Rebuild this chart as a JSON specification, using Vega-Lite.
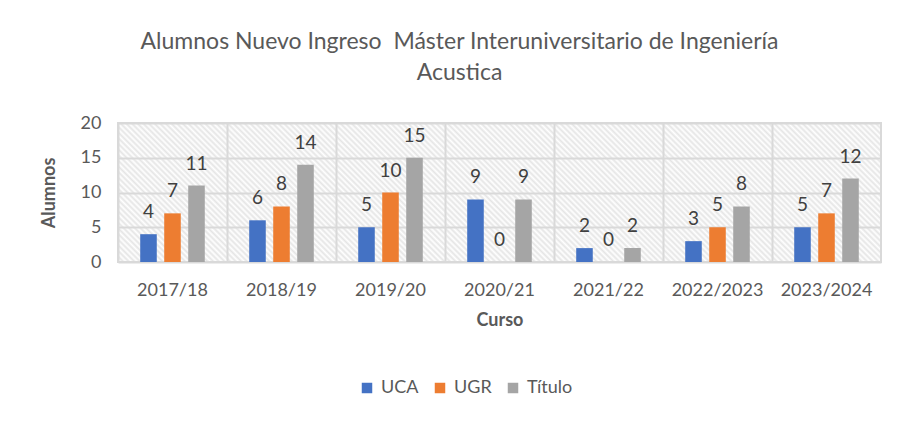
{
  "$schema": "https://vega.github.io/schema/vega-lite/v6.json",
  "autosize": {"type": "none"},
  "width": 763,
  "height": 139,
  "padding": {"left": 118, "top": 123, "right": 21, "bottom": 163},
  "background": "white",
  "title": {
    "text": ["Alumnos Nuevo Ingreso\u00a0 Máster Interuniversitario de Ingeniería", "Acustica"],
    "fontSize": 23,
    "font": "Lato",
    "fontWeight": "normal",
    "color": "#595959",
    "lineHeight": 31,
    "anchor": "middle",
    "dx": -40,
    "offset": 29
  },
  "data": {
    "values": [
      {"Curso": "2017/18", "Serie": "UCA", "Alumnos": 4},
      {"Curso": "2017/18", "Serie": "UGR", "Alumnos": 7},
      {"Curso": "2017/18", "Serie": "Título", "Alumnos": 11},
      {"Curso": "2018/19", "Serie": "UCA", "Alumnos": 6},
      {"Curso": "2018/19", "Serie": "UGR", "Alumnos": 8},
      {"Curso": "2018/19", "Serie": "Título", "Alumnos": 14},
      {"Curso": "2019/20", "Serie": "UCA", "Alumnos": 5},
      {"Curso": "2019/20", "Serie": "UGR", "Alumnos": 10},
      {"Curso": "2019/20", "Serie": "Título", "Alumnos": 15},
      {"Curso": "2020/21", "Serie": "UCA", "Alumnos": 9},
      {"Curso": "2020/21", "Serie": "UGR", "Alumnos": 0},
      {"Curso": "2020/21", "Serie": "Título", "Alumnos": 9},
      {"Curso": "2021/22", "Serie": "UCA", "Alumnos": 2},
      {"Curso": "2021/22", "Serie": "UGR", "Alumnos": 0},
      {"Curso": "2021/22", "Serie": "Título", "Alumnos": 2},
      {"Curso": "2022/2023", "Serie": "UCA", "Alumnos": 3},
      {"Curso": "2022/2023", "Serie": "UGR", "Alumnos": 5},
      {"Curso": "2022/2023", "Serie": "Título", "Alumnos": 8},
      {"Curso": "2023/2024", "Serie": "UCA", "Alumnos": 5},
      {"Curso": "2023/2024", "Serie": "UGR", "Alumnos": 7},
      {"Curso": "2023/2024", "Serie": "Título", "Alumnos": 12}
    ]
  },
  "encoding": {
    "x": {
      "field": "Curso",
      "type": "nominal",
      "sort": null,
      "scale": {"paddingInner": 0, "paddingOuter": 0},
      "axis": {
        "title": "Curso",
        "titleFont": "Lato",
        "titleFontSize": 18,
        "titleFontWeight": "bold",
        "titleColor": "#595959",
        "titlePadding": 12,
        "labelFont": "Lato",
        "labelFontSize": 18,
        "labelColor": "#595959",
        "labelAngle": 0,
        "labelPadding": 19,
        "domain": false,
        "ticks": false,
        "grid": true,
        "bandPosition": 0,
        "gridColor": "#d9d9d9",
        "gridWidth": 2
      }
    },
    "xOffset": {
      "field": "Serie",
      "type": "nominal",
      "sort": ["UCA", "UGR", "Título"],
      "scale": {"paddingInner": 0.31, "paddingOuter": 0.925}
    },
    "y": {
      "field": "Alumnos",
      "type": "quantitative",
      "scale": {"domain": [0, 20]},
      "axis": {
        "title": "Alumnos",
        "titleFont": "Lato",
        "titleFontSize": 18,
        "titleFontWeight": "bold",
        "titleColor": "#595959",
        "titlePadding": 22,
        "labelFont": "Lato",
        "labelFontSize": 18,
        "labelColor": "#595959",
        "labelPadding": 17,
        "values": [0, 5, 10, 15, 20],
        "domain": false,
        "ticks": false,
        "gridColor": "#d9d9d9",
        "gridWidth": 2
      }
    }
  },
  "layer": [
    {
      "mark": {"type": "bar"},
      "encoding": {
        "color": {
          "field": "Serie",
          "type": "nominal",
          "sort": ["UCA", "UGR", "Título"],
          "scale": {"domain": ["UCA", "UGR", "Título"], "range": ["#4472C4", "#ED7D31", "#A5A5A5"]},
          "legend": {
            "title": null,
            "orient": "none",
            "direction": "horizontal",
            "legendX": 240,
            "legendY": 256,
            "symbolType": "square",
            "symbolSize": 110,
            "symbolStrokeWidth": 0,
            "labelFont": "Lato",
            "labelFontSize": 18,
            "labelColor": "#595959",
            "columnPadding": 12,
            "labelOffset": 5
          }
        }
      }
    },
    {
      "mark": {"type": "text", "baseline": "middle", "dy": -22, "font": "Lato", "fontSize": 19, "color": "#404040"},
      "encoding": {
        "text": {"field": "Alumnos", "type": "quantitative"}
      }
    }
  ],
  "config": {
    "view": {
      "stroke": "#d9d9d9",
      "strokeWidth": 2,
      "fill": {
        "gradient": "linear",
        "x1": 0, "y1": 1, "x2": 1.144, "y2": 0.792,
        "stops": [
          {"offset":0,"color":"#e5e5e5"},{"offset":0.003125,"color":"#fff"},{"offset":0.00625,"color":"#e5e5e5"},{"offset":0.009375,"color":"#fff"},
          {"offset":0.0125,"color":"#e5e5e5"},{"offset":0.015625,"color":"#fff"},{"offset":0.01875,"color":"#e5e5e5"},{"offset":0.021875,"color":"#fff"},
          {"offset":0.025,"color":"#e5e5e5"},{"offset":0.028125,"color":"#fff"},{"offset":0.03125,"color":"#e5e5e5"},{"offset":0.034375,"color":"#fff"},
          {"offset":0.0375,"color":"#e5e5e5"},{"offset":0.040625,"color":"#fff"},{"offset":0.04375,"color":"#e5e5e5"},{"offset":0.046875,"color":"#fff"},
          {"offset":0.05,"color":"#e5e5e5"},{"offset":0.053125,"color":"#fff"},{"offset":0.05625,"color":"#e5e5e5"},{"offset":0.059375,"color":"#fff"},
          {"offset":0.0625,"color":"#e5e5e5"},{"offset":0.065625,"color":"#fff"},{"offset":0.06875,"color":"#e5e5e5"},{"offset":0.071875,"color":"#fff"},
          {"offset":0.075,"color":"#e5e5e5"},{"offset":0.078125,"color":"#fff"},{"offset":0.08125,"color":"#e5e5e5"},{"offset":0.084375,"color":"#fff"},
          {"offset":0.0875,"color":"#e5e5e5"},{"offset":0.090625,"color":"#fff"},{"offset":0.09375,"color":"#e5e5e5"},{"offset":0.096875,"color":"#fff"},
          {"offset":0.1,"color":"#e5e5e5"},{"offset":0.103125,"color":"#fff"},{"offset":0.10625,"color":"#e5e5e5"},{"offset":0.109375,"color":"#fff"},
          {"offset":0.1125,"color":"#e5e5e5"},{"offset":0.115625,"color":"#fff"},{"offset":0.11875,"color":"#e5e5e5"},{"offset":0.121875,"color":"#fff"},
          {"offset":0.125,"color":"#e5e5e5"},{"offset":0.128125,"color":"#fff"},{"offset":0.13125,"color":"#e5e5e5"},{"offset":0.134375,"color":"#fff"},
          {"offset":0.1375,"color":"#e5e5e5"},{"offset":0.140625,"color":"#fff"},{"offset":0.14375,"color":"#e5e5e5"},{"offset":0.146875,"color":"#fff"},
          {"offset":0.15,"color":"#e5e5e5"},{"offset":0.153125,"color":"#fff"},{"offset":0.15625,"color":"#e5e5e5"},{"offset":0.159375,"color":"#fff"},
          {"offset":0.1625,"color":"#e5e5e5"},{"offset":0.165625,"color":"#fff"},{"offset":0.16875,"color":"#e5e5e5"},{"offset":0.171875,"color":"#fff"},
          {"offset":0.175,"color":"#e5e5e5"},{"offset":0.178125,"color":"#fff"},{"offset":0.18125,"color":"#e5e5e5"},{"offset":0.184375,"color":"#fff"},
          {"offset":0.1875,"color":"#e5e5e5"},{"offset":0.190625,"color":"#fff"},{"offset":0.19375,"color":"#e5e5e5"},{"offset":0.196875,"color":"#fff"},
          {"offset":0.2,"color":"#e5e5e5"},{"offset":0.203125,"color":"#fff"},{"offset":0.20625,"color":"#e5e5e5"},{"offset":0.209375,"color":"#fff"},
          {"offset":0.2125,"color":"#e5e5e5"},{"offset":0.215625,"color":"#fff"},{"offset":0.21875,"color":"#e5e5e5"},{"offset":0.221875,"color":"#fff"},
          {"offset":0.225,"color":"#e5e5e5"},{"offset":0.228125,"color":"#fff"},{"offset":0.23125,"color":"#e5e5e5"},{"offset":0.234375,"color":"#fff"},
          {"offset":0.2375,"color":"#e5e5e5"},{"offset":0.240625,"color":"#fff"},{"offset":0.24375,"color":"#e5e5e5"},{"offset":0.246875,"color":"#fff"},
          {"offset":0.25,"color":"#e5e5e5"},{"offset":0.253125,"color":"#fff"},{"offset":0.25625,"color":"#e5e5e5"},{"offset":0.259375,"color":"#fff"},
          {"offset":0.2625,"color":"#e5e5e5"},{"offset":0.265625,"color":"#fff"},{"offset":0.26875,"color":"#e5e5e5"},{"offset":0.271875,"color":"#fff"},
          {"offset":0.275,"color":"#e5e5e5"},{"offset":0.278125,"color":"#fff"},{"offset":0.28125,"color":"#e5e5e5"},{"offset":0.284375,"color":"#fff"},
          {"offset":0.2875,"color":"#e5e5e5"},{"offset":0.290625,"color":"#fff"},{"offset":0.29375,"color":"#e5e5e5"},{"offset":0.296875,"color":"#fff"},
          {"offset":0.3,"color":"#e5e5e5"},{"offset":0.303125,"color":"#fff"},{"offset":0.30625,"color":"#e5e5e5"},{"offset":0.309375,"color":"#fff"},
          {"offset":0.3125,"color":"#e5e5e5"},{"offset":0.315625,"color":"#fff"},{"offset":0.31875,"color":"#e5e5e5"},{"offset":0.321875,"color":"#fff"},
          {"offset":0.325,"color":"#e5e5e5"},{"offset":0.328125,"color":"#fff"},{"offset":0.33125,"color":"#e5e5e5"},{"offset":0.334375,"color":"#fff"},
          {"offset":0.3375,"color":"#e5e5e5"},{"offset":0.340625,"color":"#fff"},{"offset":0.34375,"color":"#e5e5e5"},{"offset":0.346875,"color":"#fff"},
          {"offset":0.35,"color":"#e5e5e5"},{"offset":0.353125,"color":"#fff"},{"offset":0.35625,"color":"#e5e5e5"},{"offset":0.359375,"color":"#fff"},
          {"offset":0.3625,"color":"#e5e5e5"},{"offset":0.365625,"color":"#fff"},{"offset":0.36875,"color":"#e5e5e5"},{"offset":0.371875,"color":"#fff"},
          {"offset":0.375,"color":"#e5e5e5"},{"offset":0.378125,"color":"#fff"},{"offset":0.38125,"color":"#e5e5e5"},{"offset":0.384375,"color":"#fff"},
          {"offset":0.3875,"color":"#e5e5e5"},{"offset":0.390625,"color":"#fff"},{"offset":0.39375,"color":"#e5e5e5"},{"offset":0.396875,"color":"#fff"},
          {"offset":0.4,"color":"#e5e5e5"},{"offset":0.403125,"color":"#fff"},{"offset":0.40625,"color":"#e5e5e5"},{"offset":0.409375,"color":"#fff"},
          {"offset":0.4125,"color":"#e5e5e5"},{"offset":0.415625,"color":"#fff"},{"offset":0.41875,"color":"#e5e5e5"},{"offset":0.421875,"color":"#fff"},
          {"offset":0.425,"color":"#e5e5e5"},{"offset":0.428125,"color":"#fff"},{"offset":0.43125,"color":"#e5e5e5"},{"offset":0.434375,"color":"#fff"},
          {"offset":0.4375,"color":"#e5e5e5"},{"offset":0.440625,"color":"#fff"},{"offset":0.44375,"color":"#e5e5e5"},{"offset":0.446875,"color":"#fff"},
          {"offset":0.45,"color":"#e5e5e5"},{"offset":0.453125,"color":"#fff"},{"offset":0.45625,"color":"#e5e5e5"},{"offset":0.459375,"color":"#fff"},
          {"offset":0.4625,"color":"#e5e5e5"},{"offset":0.465625,"color":"#fff"},{"offset":0.46875,"color":"#e5e5e5"},{"offset":0.471875,"color":"#fff"},
          {"offset":0.475,"color":"#e5e5e5"},{"offset":0.478125,"color":"#fff"},{"offset":0.48125,"color":"#e5e5e5"},{"offset":0.484375,"color":"#fff"},
          {"offset":0.4875,"color":"#e5e5e5"},{"offset":0.490625,"color":"#fff"},{"offset":0.49375,"color":"#e5e5e5"},{"offset":0.496875,"color":"#fff"},
          {"offset":0.5,"color":"#e5e5e5"},{"offset":0.503125,"color":"#fff"},{"offset":0.50625,"color":"#e5e5e5"},{"offset":0.509375,"color":"#fff"},
          {"offset":0.5125,"color":"#e5e5e5"},{"offset":0.515625,"color":"#fff"},{"offset":0.51875,"color":"#e5e5e5"},{"offset":0.521875,"color":"#fff"},
          {"offset":0.525,"color":"#e5e5e5"},{"offset":0.528125,"color":"#fff"},{"offset":0.53125,"color":"#e5e5e5"},{"offset":0.534375,"color":"#fff"},
          {"offset":0.5375,"color":"#e5e5e5"},{"offset":0.540625,"color":"#fff"},{"offset":0.54375,"color":"#e5e5e5"},{"offset":0.546875,"color":"#fff"},
          {"offset":0.55,"color":"#e5e5e5"},{"offset":0.553125,"color":"#fff"},{"offset":0.55625,"color":"#e5e5e5"},{"offset":0.559375,"color":"#fff"},
          {"offset":0.5625,"color":"#e5e5e5"},{"offset":0.565625,"color":"#fff"},{"offset":0.56875,"color":"#e5e5e5"},{"offset":0.571875,"color":"#fff"},
          {"offset":0.575,"color":"#e5e5e5"},{"offset":0.578125,"color":"#fff"},{"offset":0.58125,"color":"#e5e5e5"},{"offset":0.584375,"color":"#fff"},
          {"offset":0.5875,"color":"#e5e5e5"},{"offset":0.590625,"color":"#fff"},{"offset":0.59375,"color":"#e5e5e5"},{"offset":0.596875,"color":"#fff"},
          {"offset":0.6,"color":"#e5e5e5"},{"offset":0.603125,"color":"#fff"},{"offset":0.60625,"color":"#e5e5e5"},{"offset":0.609375,"color":"#fff"},
          {"offset":0.6125,"color":"#e5e5e5"},{"offset":0.615625,"color":"#fff"},{"offset":0.61875,"color":"#e5e5e5"},{"offset":0.621875,"color":"#fff"},
          {"offset":0.625,"color":"#e5e5e5"},{"offset":0.628125,"color":"#fff"},{"offset":0.63125,"color":"#e5e5e5"},{"offset":0.634375,"color":"#fff"},
          {"offset":0.6375,"color":"#e5e5e5"},{"offset":0.640625,"color":"#fff"},{"offset":0.64375,"color":"#e5e5e5"},{"offset":0.646875,"color":"#fff"},
          {"offset":0.65,"color":"#e5e5e5"},{"offset":0.653125,"color":"#fff"},{"offset":0.65625,"color":"#e5e5e5"},{"offset":0.659375,"color":"#fff"},
          {"offset":0.6625,"color":"#e5e5e5"},{"offset":0.665625,"color":"#fff"},{"offset":0.66875,"color":"#e5e5e5"},{"offset":0.671875,"color":"#fff"},
          {"offset":0.675,"color":"#e5e5e5"},{"offset":0.678125,"color":"#fff"},{"offset":0.68125,"color":"#e5e5e5"},{"offset":0.684375,"color":"#fff"},
          {"offset":0.6875,"color":"#e5e5e5"},{"offset":0.690625,"color":"#fff"},{"offset":0.69375,"color":"#e5e5e5"},{"offset":0.696875,"color":"#fff"},
          {"offset":0.7,"color":"#e5e5e5"},{"offset":0.703125,"color":"#fff"},{"offset":0.70625,"color":"#e5e5e5"},{"offset":0.709375,"color":"#fff"},
          {"offset":0.7125,"color":"#e5e5e5"},{"offset":0.715625,"color":"#fff"},{"offset":0.71875,"color":"#e5e5e5"},{"offset":0.721875,"color":"#fff"},
          {"offset":0.725,"color":"#e5e5e5"},{"offset":0.728125,"color":"#fff"},{"offset":0.73125,"color":"#e5e5e5"},{"offset":0.734375,"color":"#fff"},
          {"offset":0.7375,"color":"#e5e5e5"},{"offset":0.740625,"color":"#fff"},{"offset":0.74375,"color":"#e5e5e5"},{"offset":0.746875,"color":"#fff"},
          {"offset":0.75,"color":"#e5e5e5"},{"offset":0.753125,"color":"#fff"},{"offset":0.75625,"color":"#e5e5e5"},{"offset":0.759375,"color":"#fff"},
          {"offset":0.7625,"color":"#e5e5e5"},{"offset":0.765625,"color":"#fff"},{"offset":0.76875,"color":"#e5e5e5"},{"offset":0.771875,"color":"#fff"},
          {"offset":0.775,"color":"#e5e5e5"},{"offset":0.778125,"color":"#fff"},{"offset":0.78125,"color":"#e5e5e5"},{"offset":0.784375,"color":"#fff"},
          {"offset":0.7875,"color":"#e5e5e5"},{"offset":0.790625,"color":"#fff"},{"offset":0.79375,"color":"#e5e5e5"},{"offset":0.796875,"color":"#fff"},
          {"offset":0.8,"color":"#e5e5e5"},{"offset":0.803125,"color":"#fff"},{"offset":0.80625,"color":"#e5e5e5"},{"offset":0.809375,"color":"#fff"},
          {"offset":0.8125,"color":"#e5e5e5"},{"offset":0.815625,"color":"#fff"},{"offset":0.81875,"color":"#e5e5e5"},{"offset":0.821875,"color":"#fff"},
          {"offset":0.825,"color":"#e5e5e5"},{"offset":0.828125,"color":"#fff"},{"offset":0.83125,"color":"#e5e5e5"},{"offset":0.834375,"color":"#fff"},
          {"offset":0.8375,"color":"#e5e5e5"},{"offset":0.840625,"color":"#fff"},{"offset":0.84375,"color":"#e5e5e5"},{"offset":0.846875,"color":"#fff"},
          {"offset":0.85,"color":"#e5e5e5"},{"offset":0.853125,"color":"#fff"},{"offset":0.85625,"color":"#e5e5e5"},{"offset":0.859375,"color":"#fff"},
          {"offset":0.8625,"color":"#e5e5e5"},{"offset":0.865625,"color":"#fff"},{"offset":0.86875,"color":"#e5e5e5"},{"offset":0.871875,"color":"#fff"},
          {"offset":0.875,"color":"#e5e5e5"},{"offset":0.878125,"color":"#fff"},{"offset":0.88125,"color":"#e5e5e5"},{"offset":0.884375,"color":"#fff"},
          {"offset":0.8875,"color":"#e5e5e5"},{"offset":0.890625,"color":"#fff"},{"offset":0.89375,"color":"#e5e5e5"},{"offset":0.896875,"color":"#fff"},
          {"offset":0.9,"color":"#e5e5e5"},{"offset":0.903125,"color":"#fff"},{"offset":0.90625,"color":"#e5e5e5"},{"offset":0.909375,"color":"#fff"},
          {"offset":0.9125,"color":"#e5e5e5"},{"offset":0.915625,"color":"#fff"},{"offset":0.91875,"color":"#e5e5e5"},{"offset":0.921875,"color":"#fff"},
          {"offset":0.925,"color":"#e5e5e5"},{"offset":0.928125,"color":"#fff"},{"offset":0.93125,"color":"#e5e5e5"},{"offset":0.934375,"color":"#fff"},
          {"offset":0.9375,"color":"#e5e5e5"},{"offset":0.940625,"color":"#fff"},{"offset":0.94375,"color":"#e5e5e5"},{"offset":0.946875,"color":"#fff"},
          {"offset":0.95,"color":"#e5e5e5"},{"offset":0.953125,"color":"#fff"},{"offset":0.95625,"color":"#e5e5e5"},{"offset":0.959375,"color":"#fff"},
          {"offset":0.9625,"color":"#e5e5e5"},{"offset":0.965625,"color":"#fff"},{"offset":0.96875,"color":"#e5e5e5"},{"offset":0.971875,"color":"#fff"},
          {"offset":0.975,"color":"#e5e5e5"},{"offset":0.978125,"color":"#fff"},{"offset":0.98125,"color":"#e5e5e5"},{"offset":0.984375,"color":"#fff"},
          {"offset":0.9875,"color":"#e5e5e5"},{"offset":0.990625,"color":"#fff"},{"offset":0.99375,"color":"#e5e5e5"},{"offset":0.996875,"color":"#fff"},
          {"offset":1,"color":"#e5e5e5"}
        ]
      }
    }
  }
}
